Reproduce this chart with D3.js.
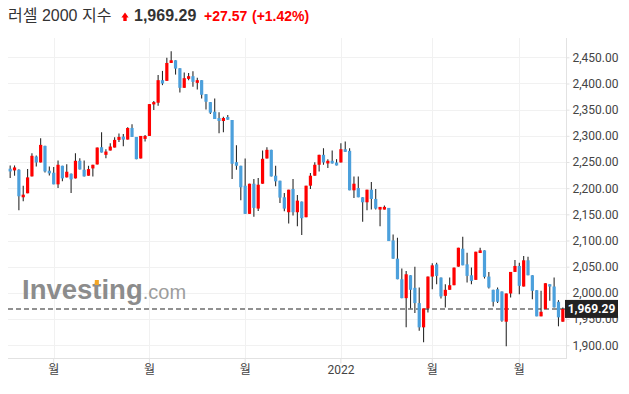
<!doctype html>
<html lang="ko">
<head>
<meta charset="utf-8">
<title>러셀 2000 지수</title>
<style>
  body { margin: 0; background: #fff; }
  svg { display: block; font-family: Roboto, "Noto Sans CJK KR", sans-serif; }
  .grid line { stroke: #f1f1f1; stroke-width: 1; }
  .axis path, .axis line { stroke: #e2e2e2; }
  .axis text { fill: #444; font-size: 12px; font-family: Roboto, "Noto Sans CJK KR", sans-serif; }
</style>
</head>
<body>
<div id="chart"></div>
<script src="https://cdn.jsdelivr.net/npm/d3@7"></script>
<script>
// daily candles
var opens = [2237.1,2233.9,2235.2,2182.6,2190.2,2222.5,2260.5,2249.1,2280.8,2233.3,
  2229.5,2207.3,2242.8,2220.6,2227.6,2218.7,2252.3,2235.2,2223.8,2237.7,
  2245.3,2278.2,2263.7,2271.9,2277.6,2292.2,2298.5,2292.8,2315.0,2297.9,
  2256.7,2294.1,2299.8,2360.0,2363.2,2406.3,2405.0,2439.2,2444.3,2429.1,
  2391.7,2408.8,2413.9,2401.2,2406.3,2379.6,2364.4,2346.1,2334.0,2328.3,
  2335.9,2330.2,2249.7,2242.8,2204.7,2150.9,2208.5,2161.0,2208.5,2256.7,
  2273.2,2223.8,2214.2,2182.6,2154.0,2198.4,2154.0,2174.3,2144.5,2204.7,
  2223.8,2244.7,2263.7,2247.2,2252.3,2249.1,2249.1,2274.4,2271.3,2195.9,
  2200.3,2182.6,2173.0,2197.1,2179.4,2159.1,2159.1,2162.3,2100.2,2065.3,
  2026.0,1989.9,2033.6,2009.6,1980.4,1934.1,1970.3,2031.1,2054.5,2029.2,
  1994.3,2005.8,2014.6,2050.1,2084.3,2054.5,2033.6,2024.8,2076.1,2081.2,
  2031.1,2005.8,2007.0,2002.6,1944.9,1998.8,2040.0,2051.4,2012.1,2062.2,
  2033.6,2005.1,1955.1,1969.0,2016.5,2012.1,1983.0,1944.9];
var highs = [2243.4,2243.4,2236.0,2204.7,2236.4,2266.8,2262.4,2295.4,2281.0,2241.5,
  2240.2,2252.9,2243.0,2245.9,2228.0,2266.8,2257.3,2252.9,2242.8,2244.7,
  2277.6,2306.8,2274.4,2285.9,2297.3,2304.2,2303.6,2316.3,2322.0,2297.9,
  2299.8,2301.7,2360.6,2366.3,2416.4,2424.0,2449.3,2461.4,2444.3,2429.1,
  2420.8,2420.2,2423.4,2410.7,2406.3,2379.6,2364.4,2371.4,2344.8,2336.5,
  2339.7,2330.2,2282.0,2242.8,2256.7,2208.5,2217.4,2219.3,2271.9,2278.2,
  2273.2,2242.8,2214.2,2190.8,2197.1,2217.4,2187.0,2174.3,2204.7,2228.8,
  2249.7,2263.7,2276.3,2255.4,2271.9,2255.4,2285.9,2289.0,2276.3,2222.5,
  2222.5,2182.6,2197.1,2211.7,2198.4,2164.2,2166.7,2162.3,2111.6,2105.3,
  2046.3,2041.9,2033.6,2050.1,2010.2,1970.3,2031.1,2056.5,2057.7,2029.2,
  2016.5,2029.2,2048.2,2086.2,2107.1,2076.7,2048.2,2078.6,2086.2,2081.2,
  2040.0,2005.8,2010.2,2002.6,1998.8,2040.0,2062.8,2057.7,2070.4,2069.1,
  2033.6,2005.1,2003.9,2018.4,2016.5,2029.2,1986.1,1972.2];
var lows = [2219.3,2223.8,2157.8,2175.0,2190.2,2222.5,2241.5,2249.1,2230.1,2224.4,
  2207.3,2200.3,2213.0,2220.6,2190.8,2218.7,2235.8,2222.5,2223.8,2222.5,
  2245.3,2268.1,2257.3,2271.9,2277.6,2288.4,2280.1,2292.8,2297.9,2255.4,
  2256.7,2289.0,2299.8,2349.2,2357.5,2396.8,2405.0,2439.2,2417.0,2382.8,
  2391.7,2406.3,2393.6,2388.5,2371.4,2350.5,2341.6,2332.1,2304.9,2306.8,
  2330.8,2217.4,2235.2,2176.9,2150.9,2150.9,2145.2,2156.6,2208.5,2256.7,
  2222.5,2203.5,2171.8,2156.0,2132.5,2147.7,2127.4,2110.3,2144.5,2198.4,
  2223.8,2232.0,2244.7,2238.3,2247.2,2243.4,2249.1,2269.4,2195.9,2181.3,
  2182.6,2135.7,2157.8,2159.1,2159.1,2127.4,2159.1,2098.9,2065.3,2026.0,
  1989.9,1934.1,1970.3,1961.4,1927.8,1905.6,1962.7,2007.0,2016.5,1989.3,
  1972.2,2005.8,2014.6,2050.1,2052.6,2019.7,2016.5,2024.8,2076.1,2027.3,
  2008.3,1974.1,1980.4,1944.9,1898.0,1991.2,2040.0,1997.5,2012.1,2033.6,
  1988.0,1955.1,1955.1,1969.0,1984.9,1972.2,1936.1,1944.9];
var closes = [2232.0,2239.6,2184.5,2187.6,2220.6,2261.8,2249.1,2282.7,2232.0,2228.2,
  2207.3,2244.7,2218.7,2231.4,2216.8,2252.3,2235.8,2222.5,2236.4,2244.7,
  2277.6,2268.1,2270.0,2279.5,2292.2,2297.9,2292.8,2315.0,2297.9,2255.4,
  2299.8,2299.8,2360.6,2364.4,2406.3,2399.9,2439.2,2444.3,2428.4,2391.7,
  2410.1,2413.9,2403.1,2406.3,2378.4,2365.1,2344.2,2332.1,2328.3,2334.0,
  2330.8,2246.6,2242.8,2201.6,2150.9,2208.5,2162.3,2206.6,2256.1,2273.2,
  2222.5,2213.0,2182.0,2161.0,2197.1,2154.0,2176.2,2142.6,2204.7,2223.8,
  2244.7,2263.7,2249.1,2252.3,2247.2,2243.4,2274.4,2269.4,2195.9,2208.5,
  2182.6,2173.0,2197.1,2179.4,2161.0,2164.2,2164.2,2098.9,2065.3,2026.0,
  1989.9,2035.5,2005.8,1980.4,1934.1,1970.3,2031.1,2052.6,2032.4,1993.1,
  2005.8,2014.6,2048.2,2086.2,2052.6,2032.4,2022.9,2078.6,2081.2,2030.5,
  2010.2,1982.9,1983.0,1946.8,1998.8,2040.0,2051.4,2013.4,2062.2,2033.6,
  2003.9,1955.1,1963.9,2018.4,2012.1,1972.2,1953.2,1969.29];

var xTickIdx = [10, 32, 54, 76, 97, 117];
var xTickLabels = ["월", "월", "월", "2022", "월", "월"];
var yTicks = [1900, 1950, 2000, 2050, 2100, 2150, 2200, 2250, 2300, 2350, 2400, 2450];

var titleName = "러셀 2000 지수";
var lastPrice = 1969.29;
var change = 27.57;
var changePct = 1.42;

var width = 629, height = 394;
var plotLeft = 8, plotRight = 567, plotTop = 38, plotBottom = 358;
var upColor = "#ff0000", downColor = "#4ca0dc";

var svg = d3.select("#chart").append("svg")
    .attr("width", width)
    .attr("height", height);

var x = d3.scaleBand()
    .domain(d3.range(closes.length))
    .range([plotLeft, 565]);

// 2450 sits on y=57.3, 1900 on y=345.2
var y = d3.scaleLinear()
    .domain([1900, 2450])
    .range([345.2, 57.3]);

var cx = function(i) { return x(i) + x.bandwidth() / 2; };

// grid
var grid = svg.append("g").attr("class", "grid");
grid.selectAll(".h").data(yTicks).enter().append("line")
    .attr("x1", plotLeft).attr("x2", plotRight)
    .attr("y1", function(d) { return Math.round(y(d)) + 0.5; })
    .attr("y2", function(d) { return Math.round(y(d)) + 0.5; });
grid.selectAll(".v").data(xTickIdx).enter().append("line")
    .attr("x1", function(d) { return Math.round(cx(d)) + 0.5; })
    .attr("x2", function(d) { return Math.round(cx(d)) + 0.5; })
    .attr("y1", plotTop).attr("y2", plotBottom);

// watermark
var wm = svg.append("text")
    .attr("x", 22).attr("y", 299)
    .style("font-family", "'Liberation Sans', Arial, sans-serif");
var wmMain = wm.append("tspan").text("Investing")
    .style("font-weight", "bold").style("font-size", "27.5px").attr("fill", "#8c8c8c");
wm.append("tspan").text(".com")
    .style("font-size", "20px").attr("fill", "#9d9d9d");
var tOffset = wmMain.node().getSubStringLength(0, 5);
svg.append("rect")
    .attr("x", 22 + tOffset + 2.5).attr("y", 280)
    .attr("width", 4).attr("height", 5)
    .attr("fill", "#f5a623");

// axes
var xAxis = svg.append("g").attr("class", "axis")
    .attr("transform", "translate(0," + (plotBottom + 0.5) + ")")
    .call(d3.axisBottom(x)
      .tickValues(xTickIdx)
      .tickSize(5)
      .tickFormat(function(d, i) { return xTickLabels[i]; }));
xAxis.select(".domain").attr("d", "M" + plotLeft + ",0H" + plotRight);
xAxis.selectAll("text").attr("y", 7).attr("dy", "0.71em").attr("fill", "#555");

var yAxis = svg.append("g").attr("class", "axis")
    .attr("transform", "translate(" + (plotRight - 0.5) + ",0)")
    .call(d3.axisRight(y)
      .tickValues(yTicks)
      .tickSize(3)
      .tickPadding(3)
      .tickFormat(d3.format(",.2f")));
yAxis.select(".domain").attr("d", "M0," + plotTop + "V" + (plotBottom + 0.5));

// last price dashed line
svg.append("line")
    .attr("x1", plotLeft).attr("x2", plotRight)
    .attr("y1", y(lastPrice)).attr("y2", y(lastPrice))
    .attr("stroke", "#6e6e6e")
    .attr("stroke-width", 1.4)
    .attr("stroke-dasharray", "5,3");

// candles
var candles = svg.append("g").selectAll("g")
    .data(closes.map(function(c, i) {
      return { i: i, o: opens[i], h: highs[i], l: lows[i], c: c };
    }))
    .enter().append("g");

candles.append("line")
    .attr("x1", function(d) { return cx(d.i); })
    .attr("x2", function(d) { return cx(d.i); })
    .attr("y1", function(d) { return y(d.h); })
    .attr("y2", function(d) { return y(d.l); })
    .attr("stroke", "#2b2b2b")
    .attr("stroke-width", 1.1);

candles.append("rect")
    .attr("x", function(d) { return cx(d.i) - 1.6; })
    .attr("width", 3.2)
    .attr("y", function(d) { return y(Math.max(d.o, d.c)); })
    .attr("height", function(d) { return Math.max(1, Math.abs(y(d.o) - y(d.c))); })
    .attr("fill", function(d) { return d.c >= d.o ? upColor : downColor; });

// last price tag
var tag = svg.append("g").attr("transform", "translate(565," + y(lastPrice) + ")");
tag.append("rect")
    .attr("x", 0).attr("y", -9)
    .attr("width", 53).attr("height", 18)
    .attr("fill", "#222");
tag.append("text")
    .attr("x", 26.5).attr("y", 0).attr("dy", "0.35em")
    .attr("text-anchor", "middle")
    .attr("fill", "#fff")
    .style("font-size", "12px").style("font-weight", "bold")
    .text(d3.format(",.2f")(lastPrice));

// title
var titleText = svg.append("text")
    .attr("x", 8).attr("y", 21)
    .style("font-family", "'Liberation Sans', Arial, 'Noto Sans CJK KR', sans-serif");
titleText.append("tspan").text(titleName)
    .style("font-size", "16px").attr("fill", "#333");

svg.append("path")
    .attr("d", "M121.4,17.4L125,12.4L128.6,17.4H126.7V21H123.3V17.4Z")
    .attr("fill", upColor);

var t2 = svg.append("text")
    .attr("y", 21)
    .style("font-family", "'Liberation Sans', Arial, sans-serif")
    .style("font-weight", "bold");
t2.append("tspan").attr("x", 134).text(d3.format(",.2f")(lastPrice))
    .style("font-size", "16px").attr("fill", "#333");
t2.append("tspan").attr("x", 204).text("+" + change.toFixed(2))
    .style("font-size", "14px").attr("fill", upColor);
t2.append("tspan").attr("x", 252).text("(+" + changePct.toFixed(2) + "%)")
    .style("font-size", "14px").attr("fill", upColor);
</script>
</body>
</html>
